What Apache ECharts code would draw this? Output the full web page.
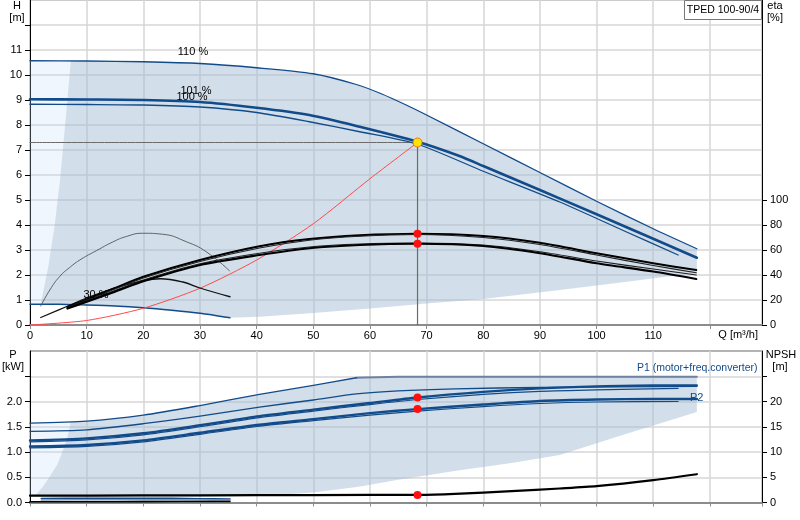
<!DOCTYPE html>
<html>
<head>
<meta charset="utf-8">
<script src="https://cdn.jsdelivr.net/npm/echarts@6/dist/echarts.min.js"></script>
<style>
  html, body { margin: 0; padding: 0; background: #fff; }
  #chart { width: 800px; height: 520px; }
</style>
</head>
<body>
<div id="chart"></div>
<script>
// ---- data (Q in m3/h) ----
// head curves, H [m]
var h110 = [[0, 10.57], [10, 10.56], [20, 10.53], [30, 10.46], [40, 10.29], [50, 10.05], [57.6, 9.62], [62, 9.25], [66.4, 8.8], [70, 8.4], [80, 7.25], [90, 6.1], [100, 4.95], [110, 3.85], [117.7, 3.05]];
var h101 = [[0, 9.03], [10, 9.02], [20, 9.0], [30, 8.92], [40, 8.69], [49.3, 8.4], [58.2, 7.93], [68.4, 7.33], [75.8, 6.76], [80, 6.36], [90, 5.4], [100, 4.43], [110, 3.45], [117.7, 2.69]];
var h100 = [[0, 8.83], [10, 8.82], [20, 8.8], [30, 8.72], [40, 8.5], [49.3, 8.13], [58.2, 7.73], [68.4, 7.23], [80, 6.15], [93.5, 4.92], [105, 3.75], [114.4, 2.8]];
var hLow = [[0, 0.83], [5, 0.83], [10, 0.8], [15, 0.76], [20, 0.69], [25, 0.59], [30, 0.47], [35.3, 0.29]];
var systemCurve = [[0, 0], [10, 0.18], [20, 0.67], [30, 1.47], [40, 2.6], [50, 4.05], [60, 5.85], [68.4, 7.3]];

// efficiency curves, eta [%]
var etaQ = [6.6, 10, 15, 20, 30, 40.5, 49.3, 58.2, 68.4, 80, 90, 100, 110, 117.6];
var etaA = [14.4, 20.4, 29.6, 38.6, 52, 63, 68.8, 71.8, 73, 71.2, 65.8, 57.4, 49.4, 44];
var etaB = [14, 19.8, 28.8, 37.6, 50.8, 61.6, 67.8, 71, 72.4, 70, 64.4, 56, 47.6, 41.8];
var etaC = [13.6, 19.2, 27.6, 36, 49, 57.4, 62.4, 64.8, 65.6, 64, 58.6, 51.2, 44.8, 40];
var etaD = [13.2, 18.6, 26.6, 35, 48, 56, 61.4, 64, 65, 63.2, 57.4, 49.4, 42.8, 36.8];
var etaLowThin = [[1.9, 15.2], [3.5, 28], [5.2, 38.6], [7, 46], [9, 52.6], [11.7, 59.4], [14.6, 66.4], [17, 70.8], [19.9, 73.4], [23.4, 72.6], [27.6, 66.6], [31.1, 58.6], [35.2, 43.4]];
var etaLowThick = [[1.9, 6], [6.6, 15], [10, 21.6], [15, 29.6], [20, 35.4], [23, 37], [27, 34.4], [30, 29.6], [35.3, 22.6]];

// duty point
var dutyQ = 68.4;
var dutyH = 7.3;
var dutyEta = [73, 65];
var dutyP = [2.08, 1.85];
var dutyNpsh = 1.5;

// power curves, P [kW]
var p1_110 = [[0, 1.57], [10, 1.61], [20, 1.73], [30, 1.92], [40.5, 2.14], [50, 2.32], [57.6, 2.47]];
var pLimit = [[57.6, 2.47], [65, 2.49], [117.7, 2.49]];
var p2_110 = [[0, 1.41], [10, 1.44], [20, 1.56], [30, 1.71], [40.5, 1.89], [50, 2.03], [57.6, 2.15], [65, 2.21], [75, 2.25], [90, 2.28], [117.7, 2.3]];
var p1_101 = [[0, 1.23], [10, 1.27], [20, 1.37], [30, 1.53], [40.5, 1.71], [50, 1.84], [60, 1.97], [68.4, 2.08], [80, 2.19], [90, 2.26], [100, 2.3], [110, 2.32], [117.7, 2.32]];
var p1_100 = [[0, 1.2], [10, 1.24], [20, 1.34], [30, 1.5], [40.5, 1.68], [50, 1.81], [60, 1.94], [68.4, 2.04], [80, 2.14], [90, 2.2], [100, 2.23], [114.4, 2.26]];
var p2_101 = [[0, 1.11], [10, 1.14], [20, 1.23], [30, 1.38], [40.5, 1.54], [50, 1.65], [60, 1.77], [68.4, 1.85], [80, 1.94], [90, 2.01], [100, 2.04], [110, 2.05], [117.7, 2.05]];
var p2_100 = [[0, 1.08], [10, 1.11], [20, 1.2], [30, 1.35], [40.5, 1.51], [50, 1.62], [60, 1.73], [68.4, 1.81], [80, 1.9], [90, 1.96], [100, 1.99], [114.4, 2.0]];
var p1Low = [[2, 0.08], [10, 0.085], [20, 0.085], [30, 0.075], [35.3, 0.07]];
var p2Low = [[2, 0.05], [10, 0.055], [20, 0.055], [30, 0.05], [35.3, 0.045]];

// NPSH [m]
var npsh = [[0, 1.35], [20, 1.4], [40, 1.45], [60, 1.5], [68.4, 1.52], [75, 1.72], [85, 2.25], [93.5, 2.77], [100, 3.23], [110, 4.42], [117.7, 5.6]];
var npshLow = [[0, 0.15], [10, 0.15], [20, 0.17], [35.3, 0.2]];

// operating range outlines
var topLightEdge = [[0, 0.83], [0, 10.57]];
var topShadeLeft = [[7.2, 10.56], [6.2, 8.0], [5.3, 5.8], [4.3, 3.9], [3.2, 2.3], [1.9, 0.85]];
var topShadeBottom = [[35.3, 0.29], [40.5, 0.33], [50, 0.48], [60, 0.66], [70, 0.86], [80, 1.04], [93.5, 1.4], [105, 1.72], [114.7, 2.0], [117.7, 2.05]];
var botLightEdge = [[0, 0.12], [0, 1.57]];
var botShadeLeft = [[7.2, 1.6], [6.5, 1.25], [5.7, 1.0], [4.8, 0.75], [3.4, 0.5], [2.2, 0.3], [1.0, 0.15], [0.4, 0.12]];
var botShadeBottom = [[10, 0.12], [20, 0.12], [35.3, 0.12], [40.5, 0.13], [50, 0.2], [58, 0.31], [65, 0.45], [75.8, 0.64], [85, 0.78], [93.5, 0.94], [105, 1.35], [117.7, 1.79]];

// axis tick/label values
var hLabels = [0, 1, 2, 3, 4, 5, 6, 7, 8, 9, 10, 11];
var hTicks = [0, 1, 2, 3, 4, 5, 6, 7, 8, 9, 10, 11, 12];
var etaLabels = [0, 20, 40, 60, 80, 100];
var pLabels = [0, 0.5, 1, 1.5, 2];
var pTicks = [0, 0.5, 1, 1.5, 2, 2.5];
var npshLabels = [0, 5, 10, 15, 20];
var npshTicks = [0, 5, 10, 15, 20, 25];

// ---- chart ----
var BLUE = "#124b8a";
var FONT = "'Liberation Sans', Arial, sans-serif";

var chart = echarts.init(document.getElementById("chart"), null, { renderer: "canvas" });

function zip(xs, ys) {
  return xs.map(function (x, i) { return [x, ys[i]]; });
}

function area(points, fill, xi, yi) {
  return {
    type: "custom",
    xAxisIndex: xi,
    yAxisIndex: yi,
    silent: true,
    clip: true,
    z: 1,
    data: [[0, 0]],
    renderItem: function (params, api) {
      return {
        type: "polygon",
        shape: { points: points.map(function (p) { return api.coord(p); }) },
        style: { fill: fill }
      };
    }
  };
}

function curve(data, color, width, xi, yi, z, smooth) {
  return {
    type: "line",
    xAxisIndex: xi,
    yAxisIndex: yi,
    data: data,
    symbol: "none",
    smooth: smooth === undefined ? 0.25 : smooth,
    silent: true,
    z: z || 3,
    lineStyle: { color: color, width: width, cap: "round", join: "round" }
  };
}

function dots(data, color, border, size, xi, yi) {
  return {
    type: "scatter",
    xAxisIndex: xi,
    yAxisIndex: yi,
    data: data,
    symbolSize: size,
    silent: true,
    z: 6,
    itemStyle: { color: color, borderColor: border, borderWidth: border ? 1 : 0, opacity: 1 }
  };
}

var topDark = topShadeLeft
  .concat(hLow.filter(function (p) { return p[0] > 1.9 && p[0] < 35.3; }))
  .concat(topShadeBottom)
  .concat(h110.filter(function (p) { return p[0] > 7.2; }).reverse());
var topLight = topLightEdge.concat(topShadeLeft);

var botDark = botShadeLeft
  .concat(botShadeBottom)
  .concat(pLimit.slice().reverse())
  .concat(p1_110.filter(function (p) { return p[0] > 7.2 && p[0] < 57.6; }).reverse());
var botLight = botLightEdge.concat(botShadeLeft);

var shadeDark = "rgba(160,185,210,0.48)";
var shadeLight = "rgba(190,220,250,0.25)";

var gridLine = { show: true, lineStyle: { color: "#d6d6d6", width: 1.5 } };
var labelBase = { fontSize: 11, color: "#000", fontFamily: FONT };

function xAxisFor(gi, showLabels) {
  return {
    gridIndex: gi,
    type: "value",
    min: 0,
    max: 129.2,
    interval: 10,
    axisLine: { show: true, onZero: false, lineStyle: { color: "#8c8c8c", width: 2 } },
    axisTick: { show: true, length: 4, lineStyle: { color: "#8c8c8c" } },
    axisLabel: Object.assign({}, labelBase, {
      show: showLabels,
      margin: 5,
      showMaxLabel: false,
      formatter: function (v) { return v <= 110 ? String(v) : ""; }
    }),
    splitLine: gridLine
  };
}

function yAxisFor(gi, pos, max, interval, labels, ticks, fmt, split) {
  return {
    gridIndex: gi,
    type: "value",
    position: pos,
    min: 0,
    max: max,
    interval: interval,
    axisLine: { show: true, onZero: false, lineStyle: { color: "#000", width: 1 } },
    axisTick: { show: true, length: 5, lineStyle: { color: "#000" }, customValues: ticks },
    axisLabel: Object.assign({}, labelBase, { margin: 8, customValues: labels, formatter: fmt }),
    splitLine: split ? gridLine : { show: false }
  };
}

function txt(x, y, s, opts) {
  opts = opts || {};
  return {
    type: "text",
    x: x,
    y: y,
    z: 100,
    silent: true,
    style: {
      text: s,
      fontSize: opts.size || 11,
      fontFamily: FONT,
      fill: opts.color || "#000",
      align: opts.align || "center",
      verticalAlign: "middle"
    }
  };
}

var option = {
  animation: false,
  backgroundColor: "#fff",
  grid: [
    { left: 30, right: 38, top: 0, height: 325, show: true, borderColor: "#999", borderWidth: 1, backgroundColor: "transparent" },
    { left: 30, right: 38, top: 351, height: 151.5, show: true, borderColor: "#666", borderWidth: 1, backgroundColor: "transparent" }
  ],
  xAxis: [xAxisFor(0, true), xAxisFor(1, false)],
  yAxis: [
    yAxisFor(0, "left", 13, 1, hLabels, hTicks, function (v) { return String(v); }, true),
    yAxisFor(0, "right", 260, 20, etaLabels, etaLabels, function (v) { return String(v); }, false),
    yAxisFor(1, "left", 3, 0.5, pLabels, pTicks, function (v) { return v.toFixed(1); }, true),
    yAxisFor(1, "right", 30, 5, npshLabels, npshTicks, function (v) { return String(v); }, false)
  ],
  series: [
    // top chart: H and eta
    area(topLight, shadeLight, 0, 0),
    area(topDark, shadeDark, 0, 0),
    curve(h110, BLUE, 1.3, 0, 0),
    curve(h101, BLUE, 2.6, 0, 0),
    curve(h100, BLUE, 1.3, 0, 0),
    curve(hLow, BLUE, 1.3, 0, 0),
    curve(systemCurve, "#ff4a4a", 1, 0, 0),
    curve([[0, dutyH], [dutyQ, dutyH]], "#6b6b6b", 1, 0, 0, 2),
    curve([[dutyQ, 0], [dutyQ, dutyH]], "#6b6b6b", 1.2, 0, 0, 2),
    curve(etaLowThin, "#555", 0.9, 0, 1, 3, 0.5),
    curve(etaLowThick, "#111", 1.3, 0, 1, 3, 0.4),
    curve(zip(etaQ, etaA), "#000", 2, 0, 1),
    curve(zip(etaQ, etaB), "#222", 1.2, 0, 1),
    curve(zip(etaQ, etaC), "#222", 1.2, 0, 1),
    curve(zip(etaQ, etaD), "#000", 2.2, 0, 1),
    dots([[dutyQ, dutyEta[0]], [dutyQ, dutyEta[1]]], "#ff1010", null, 8, 0, 1),
    dots([[dutyQ, dutyH]], "#ffe400", "#f07800", 9, 0, 0),

    // bottom chart: P and NPSH
    area(botLight, shadeLight, 1, 2),
    area(botDark, shadeDark, 1, 2),
    curve(pLimit, "#6f81a0", 2, 1, 2),
    curve(p1_110, BLUE, 1.3, 1, 2),
    curve(p2_110, BLUE, 1.3, 1, 2),
    curve(p1_101, BLUE, 2.4, 1, 2),
    curve(p1_100, BLUE, 1.2, 1, 2),
    curve(p2_101, BLUE, 2.4, 1, 2),
    curve(p2_100, BLUE, 1.2, 1, 2),
    curve(p1Low, BLUE, 1.6, 1, 2),
    curve(p2Low, "#8a97aa", 1.6, 1, 2),
    curve(npshLow, "#000", 1.6, 1, 3),
    curve(npsh, "#000", 2.2, 1, 3),
    dots([[dutyQ, dutyP[0]], [dutyQ, dutyP[1]]], "#ff1010", null, 8, 1, 2),
    dots([[dutyQ, dutyNpsh]], "#ff1010", null, 8, 1, 3)
  ],
  graphic: {
    elements: [
      txt(17, 6, "H"),
      txt(17, 18, "[m]"),
      txt(775, 6, "eta"),
      txt(775, 18, "[%]"),
      txt(758, 335, "Q [m\u00b3/h]", { align: "right" }),
      txt(13, 355, "P"),
      txt(13, 367, "[kW]"),
      txt(781, 355, "NPSH"),
      txt(780, 367, "[m]"),
      {
        type: "rect",
        z: 99,
        silent: true,
        shape: { x: 684.5, y: 0.5, width: 77, height: 19 },
        style: { fill: "#fff", stroke: "#777", lineWidth: 1 }
      },
      txt(723, 10, "TPED 100-90/4", { size: 10.5 }),
      txt(193, 52, "110 %"),
      txt(196, 91, "101 %"),
      txt(192, 97, "100 %"),
      txt(96, 295, "30 %"),
      txt(637, 368, "P1 (motor+freq.converter)", { align: "left", color: BLUE, size: 10.5 }),
      txt(690, 398, "P2", { align: "left", color: BLUE })
    ]
  }
};

chart.setOption(option);
</script>
</body>
</html>
